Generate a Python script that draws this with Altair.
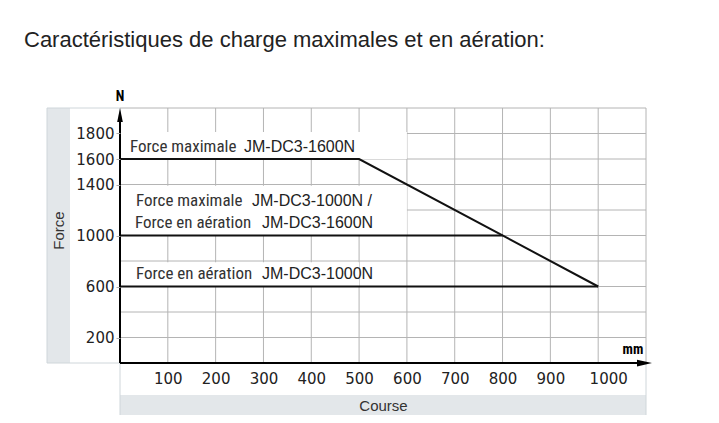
import altair as alt
import pandas as pd

# ---- data -------------------------------------------------------------
title_text = "Caractéristiques de charge maximales et en aération:"
x_title = "Course"
y_title = "Force"
x_unit = "mm"
y_unit = "N"

x_tick_values = [100, 200, 300, 400, 500, 600, 700, 800, 900, 1000]
y_tick_values = [200, 600, 1000, 1400, 1600, 1800]
grid_x = [100, 200, 300, 400, 500, 600, 700, 800, 900, 1000, 1100]
grid_y = [200, 400, 600, 800, 1000, 1200, 1400, 1600, 1800, 2000]

# curves
s1_name = "Force maximale JM-DC3-1600N"
s1_x = [0, 500, 1000]
s1_y = [1600, 1600, 600]
s2_name = "Force maximale JM-DC3-1000N / Force en aération JM-DC3-1600N"
s2_x = [0, 800]
s2_y = [1000, 1000]
s3_name = "Force en aération JM-DC3-1000N"
s3_x = [0, 1000]
s3_y = [600, 600]

# label texts (two font parts each)
label_words = ["Force maximale", "Force maximale", "Force en aération", "Force en aération"]
label_models = ["JM-DC3-1600N", "JM-DC3-1000N /", "JM-DC3-1600N", "JM-DC3-1000N"]
label_level = [1600, 1000, 1000, 600]

# white boxes behind labels (data coordinates)
box_x0 = [0, 0, 0]
box_x1 = [600, 600, 500]
box_y0 = [1600, 1000, 600]
box_y1 = [1812, 1390, 790]

# ---- layout constants ---------------------------------------------------
W, H = 526, 255
xs = alt.Scale(domain=[0, 1100], nice=False, zero=False)
ys = alt.Scale(domain=[0, 2000], nice=False, zero=False)

xaxis = alt.Axis(values=x_tick_values, grid=False, domain=False, ticks=False, format="d",
                 labelFont="DejaVu Sans", labelFontSize=15, labelColor="#222",
                 labelOffset={"condition": {"test": "datum.value == 1000", "value": 10}, "value": 0},
                 labelPadding=8, title=x_title, titleFont="Liberation Sans",
                 titleFontSize=15, titleFontWeight="normal", titleColor="#333",
                 titlePadding=12, zindex=1, labelFlush=False)
yaxis = alt.Axis(values=y_tick_values, grid=False, domain=False, ticks=True, format="d",
                 tickSize=4, tickColor="#aaa", labelFont="DejaVu Sans",
                 labelFontSize=15, labelColor="#222", labelPadding=2,
                 title=y_title, titleFont="Liberation Sans", titleFontSize=15,
                 titleFontWeight="normal", titleColor="#333", titleAngle=270,
                 titleX=-62, titleY=122, titleAlign="center",
                 titleBaseline="middle", zindex=1, labelFlush=False)

def X(f):
    return alt.X(f, type="quantitative", scale=xs, axis=xaxis)

def Y(f):
    return alt.Y(f, type="quantitative", scale=ys, axis=yaxis)

one = alt.Data(values=[{"a": 1}])

# frames / panels
grey = "#e3e7ea"
border = "#cfd6da"
panel_strip = alt.Chart(one).mark_rect(fill=grey).encode(
    x=alt.value(-73), x2=alt.value(-50), y=alt.value(0), y2=alt.value(H))
panel_border = alt.Chart(one).mark_rect(fillOpacity=0, stroke=border, strokeWidth=1).encode(
    x=alt.value(-73), x2=alt.value(0), y=alt.value(0), y2=alt.value(H))
bottom_strip = alt.Chart(one).mark_rect(fill=grey).encode(
    x=alt.value(0), x2=alt.value(W), y=alt.value(287), y2=alt.value(310))
bottom_border = alt.Chart(one).mark_rect(fillOpacity=0, stroke=border, strokeWidth=1).encode(
    x=alt.value(0), x2=alt.value(W), y=alt.value(H), y2=alt.value(310))

# grid
gx = pd.DataFrame({"x": grid_x})
gy = pd.DataFrame({"y": grid_y})
vgrid = alt.Chart(gx).mark_rule(color="#b4b4b4", strokeWidth=1).encode(x=X("x"))
hgrid = alt.Chart(gy).mark_rule(color="#b4b4b4", strokeWidth=1).encode(y=Y("y"))

# white label boxes
bx = pd.DataFrame({"x": box_x0, "x2": box_x1, "y": box_y0, "y2": box_y1})
boxes = alt.Chart(bx).mark_rect(fill="white").encode(
    x=X("x"), x2="x2", y=Y("y"), y2="y2")

# curves
rows = []
for name, xv, yv in [(s1_name, s1_x, s1_y), (s2_name, s2_x, s2_y), (s3_name, s3_x, s3_y)]:
    for i, (a, b) in enumerate(zip(xv, yv)):
        rows.append({"series": name, "x": a, "y": b, "i": i})
lines_df = pd.DataFrame(rows)
curves = alt.Chart(lines_df).mark_line(color="#111", strokeWidth=2).encode(
    x=X("x"), y=Y("y"), detail="series:N", order="i:Q")

# labels
narrow = "Roboto Condensed"
lab_df = pd.DataFrame({"w": label_words, "m": label_models, "lvl": label_level})
label_px_words = [10, 16, 15, 16]
label_px_models = [124, 132, 142, 142]
label_dy = [-12, -35, -13, -13]
label_layers = []
for k in range(len(label_words)):
    d = lab_df.iloc[[k]]
    label_layers.append(alt.Chart(d).mark_text(
        align="left", baseline="middle", font=narrow, fontSize=17, color="#333",
        dy=label_dy[k]).encode(x=alt.value(label_px_words[k]), y=Y("lvl"), text="w:N"))
    label_layers.append(alt.Chart(d).mark_text(
        align="left", baseline="middle", font="Liberation Sans", fontSize=16, color="#222",
        dy=label_dy[k]).encode(x=alt.value(label_px_models[k]), y=Y("lvl"), text="m:N"))

# axis lines and arrows
yline = alt.Chart(one).mark_rule(color="#000", strokeWidth=2).encode(
    x=alt.value(0), y=alt.value(6), y2=alt.value(H))
xline = alt.Chart(one).mark_rule(color="#000", strokeWidth=2).encode(
    x=alt.value(0), x2=alt.value(W), y=alt.value(H))
yarrow = alt.Chart(one).mark_point(shape="M0,-1L0.4,1L-0.4,1Z", size=196, filled=True,
                                   color="#000", opacity=1).encode(
    x=alt.value(0), y=alt.value(7))
xarrow = alt.Chart(one).mark_point(shape="M1,0L-1,0.45L-1,-0.45Z", size=225, filled=True,
                                   color="#000", opacity=1).encode(
    x=alt.value(W - 1.5), y=alt.value(H))
nlab = alt.Chart(pd.DataFrame({"t": [y_unit]})).mark_text(
    font=narrow, fontSize=14, fontWeight="bold", color="#000", align="center",
    baseline="middle").encode(x=alt.value(0), y=alt.value(-11), text="t:N")
mmlab = alt.Chart(pd.DataFrame({"t": [x_unit]})).mark_text(
    font=narrow, fontSize=14, fontWeight="bold", color="#000", align="center",
    baseline="middle").encode(x=alt.value(513), y=alt.value(242), text="t:N")

title = alt.Chart(pd.DataFrame({"t": [title_text]})).mark_text(
    font="Liberation Sans", fontSize=22, color="#222", align="left",
    baseline="alphabetic").encode(x=alt.value(-96), y=alt.value(-61), text="t:N")

chart = alt.layer(
    panel_strip, panel_border, bottom_strip, bottom_border,
    vgrid, hgrid, boxes, *label_layers, curves,
    yline, xline, yarrow, xarrow, nlab, mmlab, title
).properties(
    width=W, height=H,
    autosize=alt.AutoSizeParams(type="none"),
    padding={"left": 112, "top": 100, "right": 65, "bottom": 52},
).configure_view(stroke=None)

chart.save("out.html", embed_options={"renderer": "svg", "actions": False})
